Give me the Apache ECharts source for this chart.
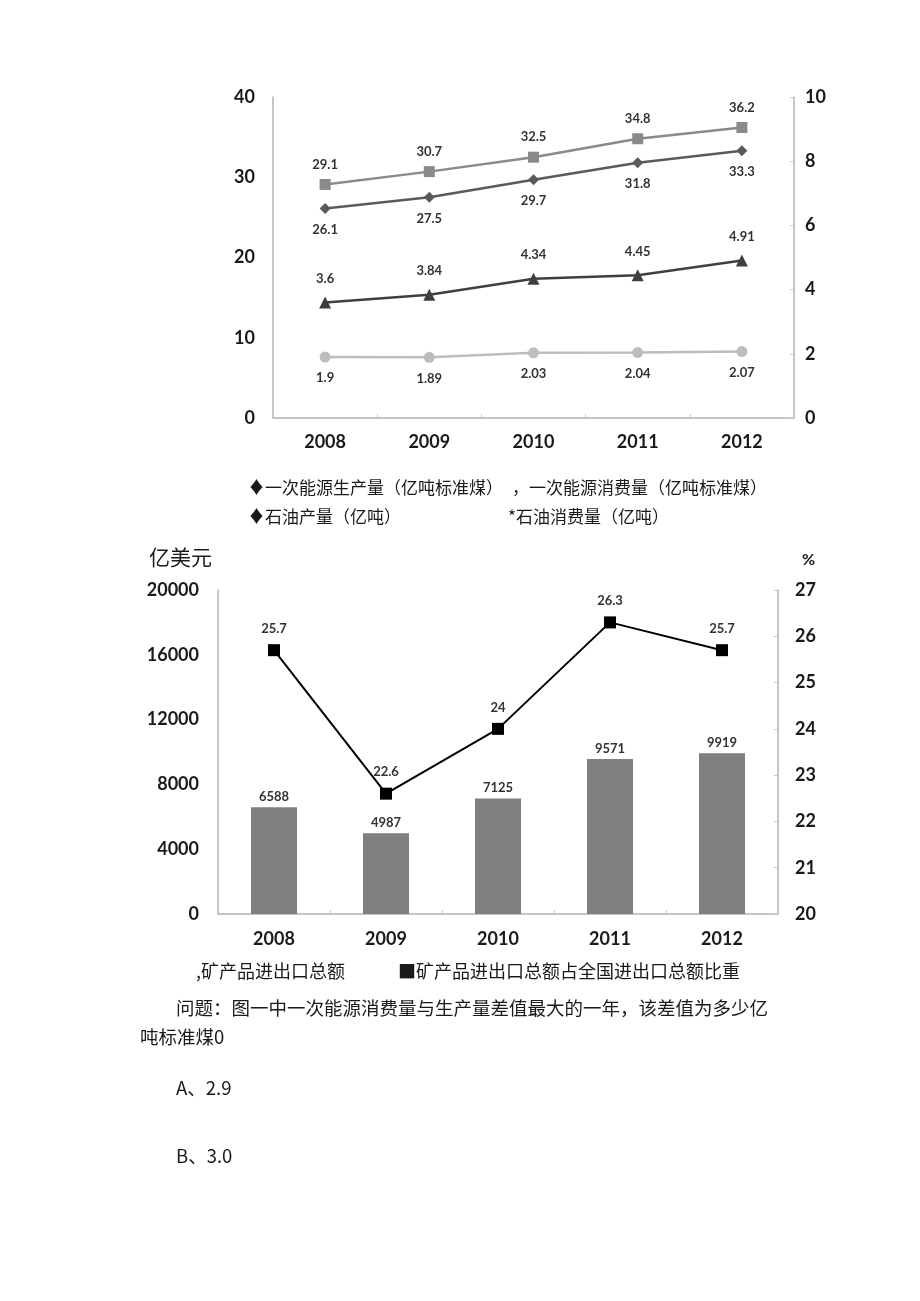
<!DOCTYPE html>
<html><head><meta charset="utf-8">
<script src="https://cdn.jsdelivr.net/npm/echarts@6/dist/echarts.min.js"></script>
<style>html,body{margin:0;padding:0;background:#fff}#c{width:920px;height:1301px}</style>
</head><body><div id="c"></div>
<script>
// ---------- Data ----------
const years = ['2008', '2009', '2010', '2011', '2012'];
// Chart 1
const energyProduction = [26.1, 27.5, 29.7, 31.8, 33.3];   // 一次能源生产量 (left axis)
const energyConsumption = [29.1, 30.7, 32.5, 34.8, 36.2];  // 一次能源消费量 (left axis)
const oilA = [3.6, 3.84, 4.34, 4.45, 4.91];                // triangle series (right axis)
const oilB = [1.9, 1.89, 2.03, 2.04, 2.07];                // circle series (right axis)
const leftTicks1 = [0, 40, 10];
const rightTicks1 = [0, 10, 2];
// Chart 2
const mineralTrade = [6588, 4987, 7125, 9571, 9919];       // 矿产品进出口总额 (亿美元)
const mineralShare = [25.7, 22.6, 24, 26.3, 25.7];          // 占全国进出口总额比重 (%)
const leftTicks2 = [0, 20000, 4000];
const rightTicks2 = [20, 27, 1];

const names1 = ['一次能源生产量（亿吨标准煤）', '一次能源消费量（亿吨标准煤）', '石油产量（亿吨）', '石油消费量（亿吨）'];
const prefix1 = ['♦', '，', '♦', '*'];
const names2 = ['矿产品进出口总额', '矿产品进出口总额占全国进出口总额比重'];
const prefix2 = [',', '■'];

const questionLines = ['问题：图一中一次能源消费量与生产量差值最大的一年，该差值为多少亿', '吨标准煤0'];
const options = ['A、2.9', 'B、3.0'];

// ---------- Styles ----------
const CJK = '"Noto Sans CJK SC", sans-serif';
const NUM = 'Lato, "Liberation Sans", sans-serif';
const axisLine = {show: true, lineStyle: {color: '#b3b3b3', width: 1.5}};
const axLabel = (size, margin) => ({fontFamily: NUM, fontWeight: 'bold', fontSize: size, color: '#1a1a1a', margin: margin,
  formatter: v => String(v)});
const dl = (pos, dist) => ({show: true, position: pos, distance: dist, fontFamily: NUM, fontWeight: 'bold', fontSize: 13, color: '#333'});

function legendItem(name, text, left, top, size) {
  return {
    data: [name], left: left, top: top, padding: 0, itemWidth: 0, itemHeight: 0, itemGap: 0,
    icon: 'rect', selectedMode: false,
    formatter: () => text,
    textStyle: {fontFamily: CJK, fontSize: size, color: '#1a1a1a', padding: [0, 0, 0, -5]}
  };
}

const chart = echarts.init(document.getElementById('c'), null, {renderer: 'canvas'});
chart.setOption({
  backgroundColor: '#fff',
  animation: false,
  grid: [
    {left: 273, right: 126, top: 97, bottom: 883},
    {left: 218, right: 142, top: 590, bottom: 387}
  ],
  xAxis: [
    {type: 'category', gridIndex: 0, data: years, boundaryGap: true, axisLine: axisLine,
     axisTick: {show: true, inside: true, length: 4, lineStyle: {color: '#c8c8c8'}}, axisLabel: axLabel(18, 15)},
    {type: 'category', gridIndex: 1, data: years, boundaryGap: true, axisLine: axisLine,
     axisTick: {show: true, inside: true, length: 4, lineStyle: {color: '#c8c8c8'}}, axisLabel: axLabel(18, 16)}
  ],
  yAxis: [
    {type: 'value', gridIndex: 0, position: 'left', min: leftTicks1[0], max: leftTicks1[1], interval: leftTicks1[2],
     axisLine: axisLine, axisTick: {show: false}, splitLine: {show: false}, axisLabel: axLabel(18, 18)},
    {type: 'value', gridIndex: 0, position: 'right', min: rightTicks1[0], max: rightTicks1[1], interval: rightTicks1[2],
     axisLine: axisLine, axisTick: {show: true, inside: true, length: 4, lineStyle: {color: '#c8c8c8'}}, splitLine: {show: false}, axisLabel: axLabel(18, 11)},
    {type: 'value', gridIndex: 1, position: 'left', min: leftTicks2[0], max: leftTicks2[1], interval: leftTicks2[2],
     axisLine: axisLine, axisTick: {show: false}, splitLine: {show: false}, axisLabel: axLabel(18, 19),
     name: '亿美元', nameLocation: 'end', nameGap: 22,
     nameTextStyle: {fontFamily: CJK, fontSize: 21, color: '#1a1a1a', align: 'right', padding: [0, 6, 0, 0]}},
    {type: 'value', gridIndex: 1, position: 'right', min: rightTicks2[0], max: rightTicks2[1], interval: rightTicks2[2],
     axisLine: axisLine, axisTick: {show: true, inside: true, length: 4, lineStyle: {color: '#c8c8c8'}}, splitLine: {show: false}, axisLabel: axLabel(18, 17),
     name: '%', nameLocation: 'end', nameGap: 22,
     nameTextStyle: {fontFamily: NUM, fontWeight: 'bold', fontSize: 16, color: '#1a1a1a', align: 'left', padding: [0, 0, 0, 24]}}
  ],
  legend: [
    legendItem(names1[0], prefix1[0] + names1[0], 248, 479, 17),
    legendItem(names1[1], prefix1[1] + names1[1], 512, 479, 17),
    legendItem(names1[2], prefix1[2] + names1[2], 248, 508, 17),
    legendItem(names1[3], prefix1[3] + names1[3], 508, 508, 17),
    legendItem(names2[0], prefix2[0] + names2[0], 196, 962, 18),
    legendItem(names2[1], prefix2[1] + names2[1], 398, 962, 18)
  ],
  series: [
    {name: names1[0], type: 'line', xAxisIndex: 0, yAxisIndex: 0, data: energyProduction,
     symbol: 'diamond', symbolSize: 11, lineStyle: {color: '#5a5a5a', width: 2.5}, itemStyle: {color: '#5a5a5a'},
     label: dl('bottom', 9)},
    {name: names1[1], type: 'line', xAxisIndex: 0, yAxisIndex: 0, data: energyConsumption,
     symbol: 'rect', symbolSize: 11, lineStyle: {color: '#8a8a8a', width: 2.5}, itemStyle: {color: '#8a8a8a'},
     label: dl('top', 8)},
    {name: names1[2], type: 'line', xAxisIndex: 0, yAxisIndex: 1, data: oilA,
     symbol: 'triangle', symbolSize: 12, lineStyle: {color: '#3f3f3f', width: 2.5}, itemStyle: {color: '#3f3f3f'},
     label: dl('top', 11)},
    {name: names1[3], type: 'line', xAxisIndex: 0, yAxisIndex: 1, data: oilB,
     symbol: 'circle', symbolSize: 11, lineStyle: {color: '#bdbdbd', width: 2.5}, itemStyle: {color: '#bdbdbd'},
     label: dl('bottom', 9)},
    {name: names2[0], type: 'bar', xAxisIndex: 1, yAxisIndex: 2, data: mineralTrade, barWidth: 46,
     itemStyle: {color: '#808080'}, label: dl('top', 4)},
    {name: names2[1], type: 'line', xAxisIndex: 1, yAxisIndex: 3, data: mineralShare, z: 5,
     symbol: 'rect', symbolSize: 12, lineStyle: {color: '#000', width: 2}, itemStyle: {color: '#000'},
     label: dl('top', 9)}
  ],
  graphic: [
    {type: 'text', left: 176, top: 999, style: {text: questionLines[0], font: '18.5px ' + CJK, fill: '#1a1a1a'}},
    {type: 'text', left: 140, top: 1028, style: {text: questionLines[1], font: '18.5px ' + CJK, fill: '#1a1a1a'}},
    {type: 'text', left: 176, top: 1079, style: {text: options[0], font: '18.5px ' + CJK, fill: '#1a1a1a'}},
    {type: 'text', left: 176, top: 1147, style: {text: options[1], font: '18.5px ' + CJK, fill: '#1a1a1a'}}
  ]
});
</script></body></html>
